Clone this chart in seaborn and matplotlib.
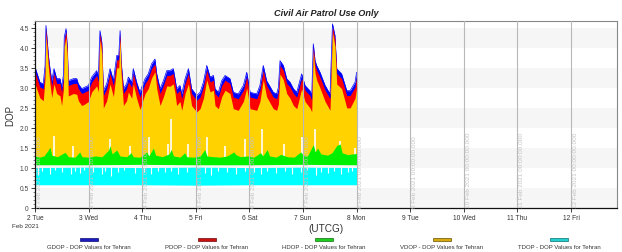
import matplotlib
matplotlib.use("Agg")
import matplotlib.pyplot as plt
from matplotlib.patches import Rectangle
from matplotlib.ticker import MultipleLocator, FixedLocator
import seaborn as sns
import numpy as np

# ---------------- data (hours since 2 Feb 2021 00:00 UTCG) ----------------
t_g = [0, 2.2, 3.7, 4.5, 4.9, 6.0, 6.7, 7.5, 8.5, 9.7, 11.2, 11.9, 12.7, 13.1, 13.9, 14.5, 14.9,
       17.2, 18.7, 19.4, 20.9, 22.4, 23.9, 25.4, 27.6, 28.4, 28.8, 29.1, 29.9, 30.6, 32.1, 33.6,
       35.1, 36.6, 37.5, 38.1, 38.5, 39.6, 41.0, 41.8, 43.3, 44.0, 45.5, 47.0, 47.8, 49.3, 50.7,
       52.2, 53.7, 54.5, 56.0, 57.5, 59.0, 60.4, 61.9, 62.7, 63.4, 64.9, 65.7, 67.2, 68.7, 70.1,
       72.4, 73.9, 75.4, 76.9, 78.4, 79.9, 80.6, 82.1, 83.6, 85.1, 87.3, 88.8, 91.0, 93.3, 94.8,
       96.3, 99.3, 100.7, 102.2, 103.7, 106.7, 108.2, 109.0, 109.7, 111.2, 112.7, 114.2, 115.7,
       117.2, 119.4, 120.9, 123.1, 123.9, 124.6, 125.4, 126.1, 127.6, 129.9, 132.1, 133.2, 134.3,
       135.1, 137.3, 139.6, 141.1, 143.3, 144.0]
gdop = [3.52, 3.14, 3.10, 3.56, 4.56, 3.81, 3.48, 3.18, 3.48, 3.23, 3.23, 3.02, 3.31, 4.27, 4.48, 3.98, 3.18,
        3.23, 3.23, 3.10, 2.98, 3.02, 3.06, 3.27, 3.43, 3.27, 4.06, 4.43, 4.14, 2.93, 3.10, 3.48,
        3.18, 3.81, 3.81, 4.43, 3.72, 2.98, 3.10, 3.27, 3.14, 3.48, 3.14, 2.89, 3.02, 3.23, 3.35,
        3.60, 3.72, 3.35, 2.98, 3.18, 3.43, 3.43, 3.48, 3.23, 2.98, 3.06, 2.85, 3.23, 3.48, 2.98,
        2.81, 2.89, 3.14, 3.56, 3.27, 3.31, 2.98, 2.89, 3.18, 3.31, 3.23, 2.89, 2.85, 3.06, 3.39,
        2.89, 2.85, 3.06, 3.56, 3.18, 2.89, 2.85, 3.02, 3.68, 3.56, 3.23, 3.14, 2.98,
        2.89, 3.35, 3.06, 2.93, 2.81, 4.10, 3.68, 3.56, 3.39, 3.06, 2.85, 4.60, 4.31,
        3.48, 3.35, 2.93, 2.93, 3.14, 3.39]
pdop = [3.40, 3.02, 2.98, 3.46, 4.48, 3.70, 3.36, 3.06, 3.36, 3.11, 3.11, 2.90, 3.19, 4.18, 4.40, 3.88, 3.06,
        3.11, 3.11, 2.98, 2.86, 2.90, 2.94, 3.15, 3.31, 3.15, 3.96, 4.35, 4.04, 2.81, 2.98, 3.36,
        3.06, 3.70, 3.70, 4.35, 3.62, 2.86, 2.98, 3.15, 3.02, 3.36, 3.02, 2.77, 2.90, 3.11, 3.23,
        3.48, 3.60, 3.23, 2.86, 3.06, 3.31, 3.31, 3.36, 3.11, 2.86, 2.94, 2.73, 3.11, 3.36, 2.86,
        2.69, 2.77, 3.02, 3.44, 3.15, 3.19, 2.86, 2.77, 3.06, 3.19, 3.11, 2.77, 2.73, 2.94, 3.27,
        2.77, 2.73, 2.94, 3.44, 3.06, 2.77, 2.73, 2.90, 3.56, 3.44, 3.11, 3.02, 2.86,
        2.77, 3.23, 2.94, 2.81, 2.69, 4.02, 3.58, 3.44, 3.27, 2.94, 2.73, 4.52, 4.21,
        3.36, 3.23, 2.81, 2.81, 3.02, 3.27]
vdop = [3.10, 2.75, 2.68, 3.24, 4.32, 3.50, 3.10, 2.76, 3.10, 2.86, 2.80, 2.56, 2.95, 4.03, 4.25, 3.70, 2.80,
        2.86, 2.84, 2.68, 2.56, 2.60, 2.66, 2.90, 3.05, 2.90, 3.78, 4.20, 3.86, 2.50, 2.68, 3.10,
        2.78, 3.50, 3.50, 4.20, 3.40, 2.56, 2.68, 2.90, 2.74, 3.10, 2.74, 2.46, 2.60, 2.86, 2.98,
        3.25, 3.40, 2.98, 2.56, 2.78, 3.05, 3.04, 3.10, 2.86, 2.56, 2.66, 2.44, 2.86, 3.10, 2.56,
        2.40, 2.48, 2.74, 3.20, 2.90, 2.94, 2.56, 2.48, 2.78, 2.94, 2.86, 2.48, 2.44, 2.66, 3.00,
        2.48, 2.44, 2.66, 3.20, 2.78, 2.48, 2.44, 2.60, 3.35, 3.20, 2.86, 2.74, 2.56,
        2.48, 2.98, 2.66, 2.50, 2.40, 3.88, 3.37, 3.20, 3.00, 2.66, 2.44, 4.38, 4.04,
        3.10, 2.98, 2.50, 2.50, 2.74, 3.00]

t_h = [0, 2, 4, 6, 6.7, 7.5, 10, 13.4, 15, 18, 20, 21, 24, 27, 30, 33, 33.6, 34.5, 36.6, 38, 41, 43, 44,
       47, 50, 51, 53, 54, 57, 60, 61, 62, 65, 67, 68, 71, 74, 76, 77, 80, 83, 86, 89, 90, 92, 95,
       98, 101, 102, 104, 105, 108, 110, 113, 116, 119, 120, 122, 124.6, 125.5, 126.5, 128, 131,
       133, 135.1, 136.6, 137.5, 140, 142, 144]
hdop = [1.30, 1.27, 1.30, 1.45, 1.52, 1.32, 1.28, 1.39, 1.28, 1.27, 1.40, 1.28, 1.27, 1.30, 1.28, 1.45,
        1.56, 1.35, 1.45, 1.30, 1.28, 1.38, 1.28, 1.27, 1.40, 1.30, 1.50, 1.32, 1.28, 1.35, 1.46, 1.30,
        1.27, 1.38, 1.28, 1.27, 1.30, 1.46, 1.30, 1.28, 1.27, 1.30, 1.40, 1.33, 1.28, 1.30, 1.27, 1.38,
        1.30, 1.46, 1.30, 1.27, 1.34, 1.28, 1.27, 1.40, 1.33, 1.30, 1.58, 1.40, 1.50, 1.35, 1.32, 1.38,
        1.56, 1.60, 1.38, 1.33, 1.35, 1.36]
t_low = [0, 24, 48, 72, 96, 120, 144]
hdop_low = [1.08, 1.08, 1.09, 1.08, 1.08, 1.09, 1.08]
tdop = [1.01, 1.02, 1.01, 1.02, 1.01, 1.02, 1.01]
tdop_low = [0.58, 0.58, 0.58, 0.57, 0.58, 0.58, 0.58]

# white gaps between HDOP and VDOP
gap_t = [8.5, 17.0, 33.6, 42.5, 51.0, 59.4, 60.9, 68.4, 76.9, 85.0, 94.0, 101.8, 111.5, 119.7, 125.2,
         136.4, 143.2]
gap_top = [1.81, 1.56, 1.72, 1.55, 1.77, 1.60, 2.22, 1.60, 1.77, 1.56, 1.72, 1.97, 1.60, 1.77, 1.97,
           1.68, 1.50]
# white notches in TDOP
notch_t = [1.5, 3.0, 6.5, 9.0, 12.0, 16.0, 18.0, 20.0, 22.0, 26.0, 30.0, 31.5, 34.0, 37.0, 40.0, 45.0,
           49.0, 52.0, 55.0, 58.0, 61.0, 64.0, 68.0, 72.0, 76.0, 79.0, 82.0, 86.0, 90.0, 94.0, 98.0,
           101.0, 104.0, 108.0, 112.0, 115.0, 119.0, 122.0, 126.0, 128.0, 131.0, 134.0, 137.0, 140.0, 142.0]
notch_bot = [0.82, 0.92, 0.86, 0.94, 0.90, 0.84, 0.92, 0.88, 0.95, 0.90, 0.86, 0.93, 0.80, 0.91, 0.94, 0.87,
             0.90, 0.85, 0.93, 0.89, 0.92, 0.84, 0.90, 0.94, 0.88, 0.83, 0.92, 0.89, 0.86, 0.93, 0.90,
             0.84, 0.92, 0.88, 0.93, 0.86, 0.91, 0.95, 0.82, 0.90, 0.87, 0.93, 0.85, 0.89, 0.92]

day_labels = ["2 Tue", "3 Wed", "4 Thu", "5 Fri", "6 Sat", "7 Sun", "8 Mon", "9 Tue", "10 Wed",
              "11 Thu", "12 Fri"]
grid_labels = [f"{d} Feb 2021 00:00:00.000" for d in range(2, 13)]
legend_names = ["GDOP - DOP Values for Tehran", "PDOP - DOP Values for Tehran",
                "HDOP - DOP Values for Tehran", "VDOP - DOP Values for Tehran",
                "TDOP - DOP Values for Tehran"]
legend_colors = ["#1c1cc0", "#cc1010", "#20cc20", "#d4aa10", "#20d0d0"]
legend_edges = ["#0a0a70", "#700808", "#0a700a", "#6a5000", "#0a7070"]

# ---------------- figure ----------------
sns.set_theme(style="white")
plt.rcParams['font.family'] = ['Liberation Sans Narrow', 'Liberation Sans', 'DejaVu Sans']

fig = plt.figure(figsize=(6.22, 2.53), dpi=100)
ax = fig.add_axes([35/622, 1-209/253, (617-35)/622, (209-22)/253])
ax.set_facecolor("white")

# horizontal stripes
for lo in np.arange(0, 4.5, 1.0):
    ax.axhspan(lo, lo+0.5, color="#f6f6f6", zorder=0, lw=0)

ax.fill_between(t_g, 1.2, gdop, color="#0000ff", lw=0, zorder=1)
ax.fill_between(t_g, 1.2, pdop, color="#ff0000", lw=0, zorder=1.1)
ax.fill_between(t_g, 1.2, vdop, color="#ffd200", lw=0, zorder=1.2)
sns.lineplot(x=t_g, y=gdop, color="#0000ff", lw=0.5, ax=ax, zorder=1.05)
ax.vlines(gap_t, 1.25, gap_top, color="white", lw=1.2, zorder=1.3)
ax.fill_between(t_h, np.interp(t_h, t_low, hdop_low), hdop, color="#00f000", lw=0, zorder=1.4)
ax.fill_between(t_low, tdop_low, tdop, color="#00ffff", lw=0, zorder=1.5)
ax.vlines(notch_t, notch_bot, 1.03, color="white", lw=0.8, zorder=1.6)

# vertical day grid lines and rotated labels
days_h = [24*i for i in range(11)]
for x, lab in zip(days_h, grid_labels):
    if x > 0:
        ax.axvline(x, color="#b8b8b8", lw=0.8, zorder=3)
    ax.text(x + 0.8, 0.03, lab, rotation=90, ha="left", va="bottom", fontsize=4.6,
            color="#c4c4c4", zorder=4)

ax.set_xlim(0, 260.6)
ax.set_ylim(0, 4.67)
ax.xaxis.set_major_locator(FixedLocator(days_h))
ax.set_xticklabels(day_labels, fontsize=4.8, color="#333333")
ax.set_yticks(np.arange(0, 4.51, 0.5))
ax.set_yticklabels(["0"] + [f"{v:.1f}" for v in np.arange(0.5, 4.51, 0.5)], fontsize=4.8, color="#444444")
ax.yaxis.set_minor_locator(MultipleLocator(0.1))
ax.tick_params(axis="both", which="major", direction="out", length=3, width=0.6, color="#222222", pad=1.5,
               bottom=True, left=True)
ax.tick_params(axis="y", which="minor", direction="out", length=1.5, width=0.4, color="#222222", left=True)

for side in ["top", "right"]:
    ax.spines[side].set_color("#888888")
    ax.spines[side].set_linewidth(0.8)
for side in ["left", "bottom"]:
    ax.spines[side].set_color("#111111")
    ax.spines[side].set_linewidth(0.9)

ax.set_ylabel("DOP", fontsize=7, color="#333333", labelpad=3)
ax.set_xlabel("")

fig.text(326/622, 1-13/253, "Civil Air Patrol Use Only", ha="center", va="center", fontsize=6.6,
         fontstyle="italic", fontweight="bold", color="#222222")
fig.text(326/622, 1-229/253, "(UTCG)", ha="center", va="center", fontsize=7.2, color="#333333")
fig.text(25/622, 1-226.5/253, "Feb 2021", ha="center", va="center", fontsize=4.6, color="#333333")

# legend
centers = [89, 206.7, 324, 441.7, 559]
for cx, name, col, ec in zip(centers, legend_names, legend_colors, legend_edges):
    fig.patches.append(Rectangle(((cx-9)/622, 1-241.5/253), 18/622, 3/253, transform=fig.transFigure,
                                 facecolor=col, edgecolor=ec, lw=0.5))
    fig.text(cx/622, 1-248/253, name, ha="center", va="center", fontsize=4.3, color="#333333")

fig.savefig("out.png", dpi=100)
